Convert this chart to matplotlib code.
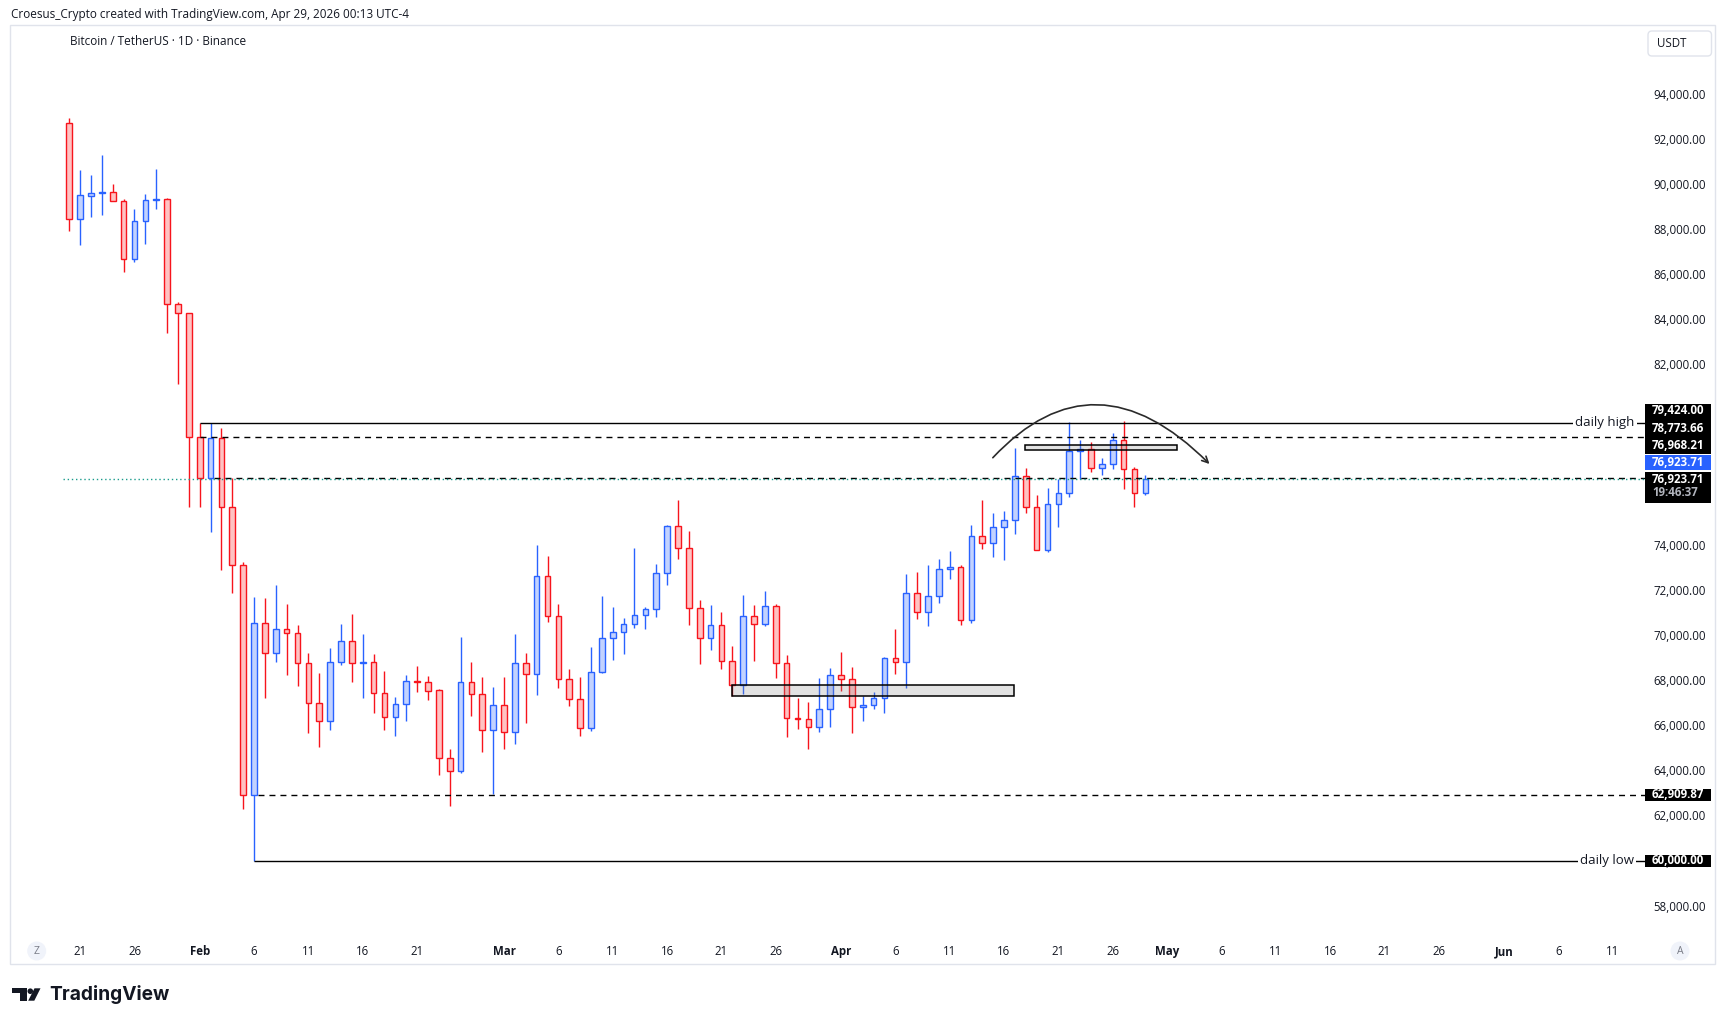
import matplotlib
matplotlib.use("Agg")
import matplotlib.pyplot as plt
import matplotlib.transforms as mtransforms
from matplotlib.patches import Rectangle, FancyArrowPatch, FancyBboxPatch, Circle, Polygon
from matplotlib.path import Path

plt.rcParams['font.family'] = ['Open Sans', 'DejaVu Sans']

# --- daily candles, Jan 20 .. Apr 29 (BTC/USDT, Binance) ---
opens = [92690, 88440, 89485, 89600, 89630, 89230, 86660, 88350, 89280, 89320,
         84670, 84270, 78774, 76968, 78720, 75690, 73090, 62910, 70520, 69190,
         70250, 70075, 68744, 66970, 66170, 68790, 69720, 68744, 68790, 67414,
         66350, 66930, 67946, 67900, 67550, 64530, 63950, 67900, 67370, 65770,
         66880, 65680, 68744, 68260, 72600, 70830, 68035, 67150, 65860, 68345,
         69853, 70120, 70474, 70873, 71140, 72736, 74820, 73845, 71183, 69853,
         70430, 68833, 67769, 70829, 70474, 71272, 68744, 66330, 66261, 65906,
         66704, 68212, 68035, 66793, 66882, 67192, 68966, 68789, 71849, 71006,
         71716, 72913, 73002, 70651, 74377, 74066, 74776, 75086, 77038, 75663,
         73756, 75796, 76284, 78161, 78235, 77392, 77570, 78634, 77348, 76284]
highs = [92915, 90620, 90400, 91290, 90000, 89340, 88890, 89560, 90670, 89380,
         84770, 84270, 79424, 79400, 79170, 76950, 73250, 71670, 71630, 72220,
         71380, 70440, 69190, 68300, 69410, 70490, 70930, 70045, 69160, 68400,
         67270, 68230, 68630, 68180, 67590, 64930, 69900, 68790, 68120, 67680,
         68120, 70030, 69190, 73990, 73500, 71380, 68490, 68120, 69470, 71730,
         71243, 70740, 73845, 71243, 73150, 74865, 75990, 74610, 71553, 71330,
         71006, 69513, 71775, 71330, 71950, 71376, 69100, 67190, 67015, 68080,
         68523, 69232, 68567, 67281, 67458, 69040, 70252, 72691, 72780, 73091,
         73371, 73726, 73091, 74865, 75988, 75397, 75485, 78294, 77407, 76210,
         76506, 76905, 79433, 78649, 78560, 77836, 78945, 79477, 77437, 77082]
lows = [87930, 87300, 88550, 88630, 89230, 86115, 86560, 87360, 88880, 83410,
        81150, 75690, 75690, 74580, 72880, 71850, 62270, 60000, 67220, 68820,
        68230, 67750, 65670, 65050, 65790, 68670, 67930, 67220, 66560, 65790,
        65540, 66200, 67490, 67120, 63790, 62430, 63870, 66420, 64830, 62950,
        64950, 65180, 66080, 67340, 70590, 67670, 66870, 65540, 65760, 68300,
        68890, 69170, 70330, 70270, 70810, 72220, 73390, 70460, 68730, 69350,
        68510, 67300, 67400, 68860, 70385, 68110, 65490, 65850, 64930, 65714,
        65935, 67532, 65640, 66202, 66704, 66556, 68257, 67665, 70696, 70415,
        71405, 72470, 70459, 70518, 73800, 73475, 73312, 74495, 75426, 73756,
        73697, 74805, 76136, 76905, 77244, 77112, 77348, 76461, 75663, 76195]
closes = [88440, 89500, 89590, 89660, 89230, 86660, 88350, 89280, 89340, 84670,
          84270, 78774, 76968, 78720, 75690, 73090, 62910, 70520, 69190, 70250,
          70075, 68744, 66970, 66170, 68790, 69720, 68744, 68800, 67414, 66350,
          66930, 67946, 67900, 67530, 64530, 63950, 67900, 67370, 65770, 66880,
          65680, 68744, 68260, 72600, 70830, 68035, 67150, 65860, 68345, 69853,
          70120, 70474, 70873, 71140, 72736, 74820, 73845, 71183, 69853, 70430,
          68833, 67769, 70829, 70474, 71272, 68744, 66305, 66290, 65906, 66704,
          68212, 68035, 66793, 66882, 67192, 68966, 68789, 71849, 71006, 71716,
          72913, 73002, 70651, 74377, 74066, 74776, 75086, 77038, 75663, 73756,
          75796, 76284, 78161, 78250, 77392, 77570, 78634, 77348, 76284, 76923.71]

# x axis labels (bar index counted from Jan 20)
tick_pos = [1, 6, 12, 17, 22, 27, 32, 40, 45, 50, 55, 60, 65, 71, 76, 81, 86, 91, 96,
            101, 106, 111, 116, 121, 126, 132, 137, 142]
tick_txt = ['21', '26', 'Feb', '6', '11', '16', '21', 'Mar', '6', '11', '16', '21', '26',
            'Apr', '6', '11', '16', '21', '26', 'May', '6', '11', '16', '21', '26',
            'Jun', '6', '11']
price_ticks = [58000, 60000, 62000, 64000, 66000, 68000, 70000, 72000, 74000,
               82000, 84000, 86000, 88000, 90000, 92000, 94000]

# drawings
daily_high = 79424.00
daily_low = 60000.00
level_a = 78773.66
level_b = 76968.21
level_c = 62909.87
last_price = 76923.71
zone_low = (61.0, 86.95, 67281, 67769)
zone_high = (87.96, 101.9, 78220, 78413)
curve_pts = [(84.97, 77864), (94.33, 82676), (104.9, 77585)]

W, H = 1726, 1025
TXT = '#131722'
RED, RED_F = '#f7141c', '#ffc2c2'
BLUE, BLUE_F = '#2962ff', '#c2d2ff'

fig = plt.figure(figsize=(W / 100, H / 100), dpi=100)
PX = mtransforms.Affine2D().scale(1 / W, -1 / H).translate(0, 1) + fig.transFigure

ax = fig.add_axes([11 / W, 1 - 935 / H, (1645 - 11) / W, (935 - 26.5) / H])
ax.set_xlim(-5.36, 144.97)
ax.set_ylim(56696, 96988)
for s in ax.spines.values():
    s.set_visible(False)

# candles
bw = 0.52
for i in range(len(opens)):
    o, h, l, c = opens[i], highs[i], lows[i], closes[i]
    up = c >= o
    ec, fc = (BLUE, BLUE_F) if up else (RED, RED_F)
    ax.vlines(i, l, h, color=ec, lw=1.0, zorder=2)
    bot = min(o, c)
    ht = max(abs(c - o), 40)
    ax.add_patch(Rectangle((i - bw / 2, bot), bw, ht, facecolor=fc, edgecolor=ec,
                           lw=1.0, zorder=3))

# horizontal levels
ax.hlines(daily_high, 12, 160, color='black', lw=1.0, zorder=4)
ax.hlines(daily_low, 17, 160, color='black', lw=1.0, zorder=4)
ax.hlines(level_a, 12, 160, color='black', lw=1.0, linestyle=(0, (4.3, 3.6)), zorder=4)
ax.hlines(level_b, 13.3, 160, color='black', lw=1.0, linestyle=(0, (4.3, 3.6)), zorder=4)
ax.hlines(level_c, 17.4, 160, color='black', lw=1.0, linestyle=(0, (4.3, 3.6)), zorder=4)
ax.hlines(last_price, -0.6, 160, color='#1a9c8c', lw=1.0, linestyle=(0, (1, 2)), zorder=4)

ax.text(138.55, daily_high, 'daily high', fontsize=9.5, color=TXT, va='center', ha='left',
        zorder=6, bbox=dict(facecolor='white', edgecolor='none', pad=1.5))
ax.text(139.0, daily_low, 'daily low', fontsize=9.5, color=TXT, va='center', ha='left',
        zorder=6, bbox=dict(facecolor='white', edgecolor='none', pad=1.5))

# zones
for x0, x1, y0, y1 in (zone_low, zone_high):
    ax.add_patch(Rectangle((x0, y0), x1 - x0, y1 - y0, facecolor=(0.55, 0.55, 0.55, 0.25),
                           edgecolor='black', lw=1.1, zorder=5))

# curved arrow
path = Path(curve_pts, [Path.MOVETO, Path.CURVE3, Path.CURVE3])
ax.add_patch(FancyArrowPatch(path=path, arrowstyle='->', mutation_scale=11,
                             color='#2a2a2a', lw=1.2, zorder=6))

# axis ticks
ax.set_xticks(tick_pos)
ax.set_xticklabels(tick_txt)
ax.tick_params(axis='x', length=0, pad=7.5, labelsize=8.3, labelcolor=TXT)
for lab in ax.get_xticklabels():
    if lab.get_text() in ('Feb', 'Mar', 'Apr', 'May', 'Jun'):
        lab.set_fontweight('bold')
ax.yaxis.tick_right()
ax.set_yticks(price_ticks)
ax.set_yticklabels([f'{v:,.2f}' for v in price_ticks])
ax.tick_params(axis='y', length=0, pad=5.8, labelsize=8.3, labelcolor=TXT)

# price scale labels
def tag(y0, y1, color):
    fig.add_artist(Rectangle((1645, y0), 65.7, y1 - y0, facecolor=color, edgecolor='none',
                             transform=PX, zorder=10))

def tagtext(y, s, color='white'):
    fig.text(1652, y, s, transform=PX, color=color, fontsize=8.3, fontweight='bold',
             va='center', ha='left', zorder=11)

tag(404, 453.5, 'black')
tag(455, 470, '#2962ff')
tag(471.7, 502.7, 'black')
tag(789.3, 800.7, 'black')
tag(855, 866.5, 'black')
tagtext(411, f'{daily_high:,.2f}')
tagtext(428.5, f'{level_a:,.2f}')
tagtext(445.5, f'{level_b:,.2f}')
tagtext(462, f'{last_price:,.2f}')
tagtext(479.5, f'{last_price:,.2f}')
tagtext(492.5, '19:46:37', color='#b2b5be')
tagtext(795, f'{level_c:,.2f}')
tagtext(860.7, f'{daily_low:,.2f}')

# frame and header
fig.add_artist(Rectangle((9.5, 25), 1705.5, 938.5, facecolor='none', edgecolor='#e0e3eb',
                         lw=1.0, transform=PX, zorder=1))
fig.add_artist(FancyBboxPatch((1648, 31), 63.5, 25, boxstyle='round,pad=0,rounding_size=4',
                              facecolor='white', edgecolor='#e0e3eb', lw=1.0, transform=PX,
                              zorder=10))
fig.text(1657, 43.7, 'USDT', transform=PX, fontsize=8.3, color=TXT, va='center', zorder=11)
fig.text(11, 14.5, 'Croesus_Crypto created with TradingView.com, Apr 29, 2026 00:13 UTC-4',
         transform=PX, fontsize=8.5, color=TXT, va='center')
fig.text(70, 41.7, 'Bitcoin / TetherUS · 1D · Binance', transform=PX, fontsize=8.5,
         color=TXT, va='center')

# Z / A buttons on time scale
for cx, s in ((36.7, 'Z'), (1680, 'A')):
    fig.add_artist(Circle((cx, 951), 9.5, facecolor='#f0f3fa', edgecolor='none',
                          transform=PX, zorder=2))
    fig.text(cx, 951.5, s, transform=PX, fontsize=7.5, color='#787b86', ha='center',
             va='center', zorder=3)

# TradingView logo
fig.add_artist(Rectangle((12.3, 988.3), 14.4, 4.8, facecolor='#131722', transform=PX))
fig.add_artist(Rectangle((20.3, 988.3), 6.4, 12.4, facecolor='#131722', transform=PX))
fig.add_artist(Circle((30.3, 991.2), 2.8, facecolor='#131722', transform=PX))
fig.add_artist(Polygon([(34.5, 988.3), (40.5, 988.3), (34.3, 1000.7), (28.2, 1000.7)],
                       closed=True, facecolor='#131722', transform=PX))
fig.text(49, 994.5, 'TradingView', transform=PX, fontsize=13.8, fontweight='bold',
         family=['Inter', 'DejaVu Sans'], color='#131722', va='center')

fig.savefig('out.png', dpi=100)
